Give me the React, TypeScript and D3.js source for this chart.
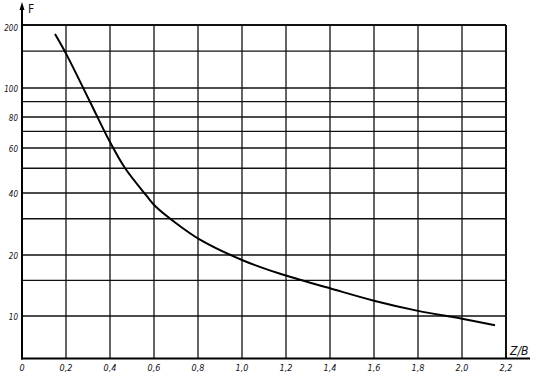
import React from "react";
import * as d3 from "d3";

// ---- data ----
const zValues = [0.15, 0.203, 0.309, 0.4, 0.468, 0.567, 0.605, 0.705, 0.805, 1.0, 1.17, 1.4, 1.6, 1.8, 2.0, 2.15];
const fValues = [181, 144, 90, 63.4, 50.1, 38.7, 34.6, 28.3, 23.9, 18.9, 16.2, 13.7, 11.9, 10.6, 9.7, 9.0];

const xTicks = [0, 0.2, 0.4, 0.6, 0.8, 1.0, 1.2, 1.4, 1.6, 1.8, 2.0, 2.2];
const yLabelTicks = [10, 20, 40, 60, 80, 100, 200];
const yGridTicks = [10, 15, 20, 30, 40, 50, 60, 70, 80, 90, 100, 150, 200];

const W = 534;
const H = 377;
const left = 22;
const right = 506;
const top = 25;
const bottom = 358.5;

export default function App() {
  const x = d3.scaleLinear().domain([0, 2.2]).range([left, right]);
  // hand-drawn logarithmic ordinate: piecewise log scale through the labelled ticks
  const y = d3
    .scaleLog()
    .domain(yLabelTicks)
    .range([316, 255, 193, 148, 117, 88, top]);

  const pts: [number, number][] = zValues.map((z, i) => [z, fValues[i]]);
  const line = d3
    .line<[number, number]>()
    .x((d) => x(d[0]))
    .y((d) => y(d[1]))
    .curve(d3.curveCatmullRom.alpha(0.5));

  const fmt = (v: number) => (v === 0 ? "0" : v.toFixed(1).replace(".", ","));
  const font = "'DejaVu Sans Condensed', 'Liberation Sans Narrow', 'DejaVu Sans', sans-serif";

  return (
    <svg
      width={W}
      height={H}
      style={{ position: "absolute", left: 0, top: 0, background: "#fff" }}
      fontFamily={font}
    >
      <rect x={0} y={0} width={W} height={H} fill="#fff" />
      {/* horizontal grid */}
      {yGridTicks.map((v) => (
        <line
          key={"h" + v}
          x1={left}
          x2={right}
          y1={y(v)}
          y2={y(v)}
          stroke="#111"
          strokeWidth={v === 200 ? 2 : 1.3}
        />
      ))}
      {/* vertical grid */}
      {xTicks.slice(1).map((v) => (
        <line
          key={"v" + v}
          x1={x(v)}
          x2={x(v)}
          y1={top}
          y2={bottom}
          stroke="#111"
          strokeWidth={v === 2.2 ? 2 : 1.3}
        />
      ))}
      {/* axes */}
      <line x1={left} x2={left} y1={bottom + 1} y2={5} stroke="#000" strokeWidth={2} />
      <path d={`M${left - 2.5},${10} L${left},${2} L${left + 2.5},${10} Z`} fill="#000" />
      <line x1={left - 1} x2={530} y1={bottom} y2={bottom} stroke="#000" strokeWidth={2} />

      {/* curve */}
      <path d={line(pts) || ""} fill="none" stroke="#000" strokeWidth={2} />

      {/* y labels */}
      {yLabelTicks.map((v) => (
        <text
          key={"yl" + v}
          x={18}
          y={y(v) + (v === 200 ? 3 : 1)}
          textAnchor="end"
          dominantBaseline="middle"
          fontSize={8}
          fontStyle="italic"
          fill="#111"
        >
          {v}
        </text>
      ))}
      {/* x labels */}
      {xTicks.map((v) => (
        <text
          key={"xl" + v}
          x={x(v)}
          y={371}
          textAnchor="middle"
          fontSize={9}
          fontStyle="italic"
          fill="#111"
        >
          {fmt(v)}
        </text>
      ))}
      <text x={28} y={13} fontSize={12} fill="#111">
        F
      </text>
      <text x={510} y={355} fontSize={12} fontStyle="italic" fill="#111">
        Z/B
      </text>
    </svg>
  );
}
